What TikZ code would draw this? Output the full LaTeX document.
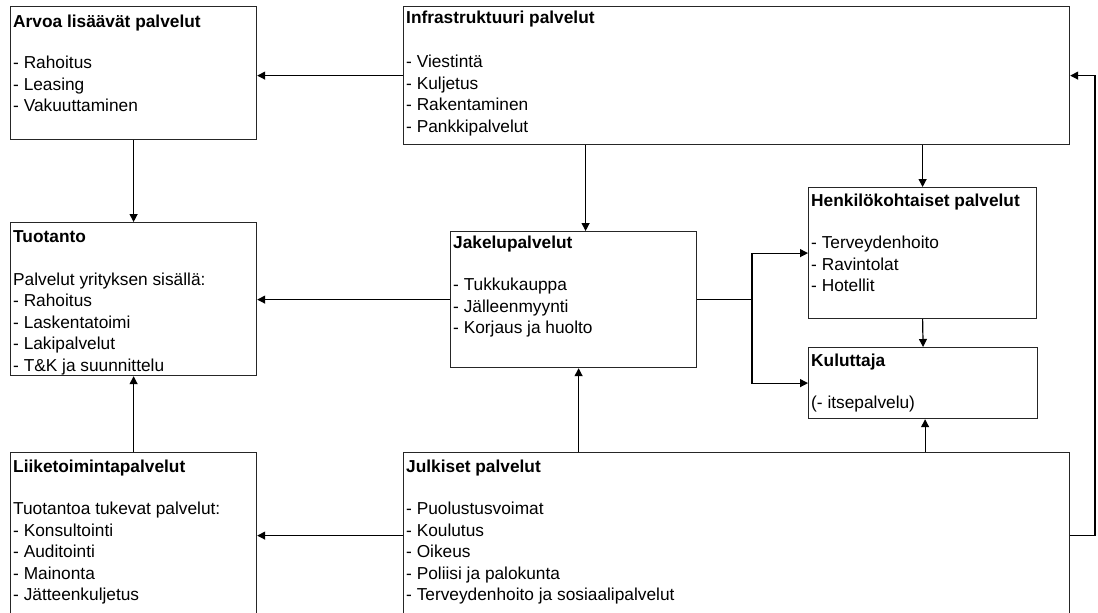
\documentclass[tikz,border=0pt]{standalone}
\usepackage{fontspec}
\setmainfont{Liberation Sans}
\usetikzlibrary{arrows.meta}
\begin{document}
\begin{tikzpicture}[x=1pt,y=-1pt,
  box/.style={draw=black!85, line width=1.2pt, inner sep=0pt, anchor=north west},
  txt/.style={anchor=north west, inner sep=0pt, align=left, font={\fontsize{17.3}{21.4}\selectfont}},
  conn/.style={draw=black, line width=1.2pt},
  arr/.style={conn, -{Triangle[length=8pt,width=8pt]}}]
\useasboundingbox (0,0) rectangle (1098,613);
% boxes
\node[box, minimum width=246pt, minimum height=133pt] (arvoa) at (10,6) {};
\node[box, minimum width=666pt, minimum height=138pt] (infra) at (403,6) {};
\node[box, minimum width=246pt, minimum height=153pt] (tuot) at (10,222) {};
\node[box, minimum width=246pt, minimum height=136pt] (jak) at (450,231) {};
\node[box, minimum width=228pt, minimum height=131pt] (henk) at (808,187) {};
\node[box, minimum width=229pt, minimum height=71pt] (kul) at (808,347) {};
\node[box, minimum width=246pt, minimum height=166pt] (liik) at (10,452) {};
\node[box, minimum width=666pt, minimum height=166pt] (julk) at (403,452) {};
% texts
\node[txt] (tarvoa) at ([shift={(3pt,-6pt)}]arvoa.north west) {\strut\textbf{Arvoa lisäävät palvelut}\\[-1pt] \\- Rahoitus\\- Leasing\\- Vakuuttaminen};
\node[txt] (tinfra) at ([shift={(3pt,-2pt)}]infra.north west) {\strut\textbf{Infrastruktuuri palvelut}\\[2pt] \\- Viestintä\\- Kuljetus\\- Rakentaminen\\- Pankkipalvelut};
\node[txt] (ttuot) at ([shift={(3pt,-5.5pt)}]tuot.north west) {\strut\textbf{Tuotanto}\\ \\Palvelut yrityksen sisällä:\\- Rahoitus\\- Laskentatoimi\\- Lakipalvelut\\- T\&K ja suunnittelu};
\node[txt] (tjak) at ([shift={(3pt,-2pt)}]jak.north west) {\strut\textbf{Jakelupalvelut}\\ \\- Tukkukauppa\\- Jälleenmyynti\\- Korjaus ja huolto};
\node[txt] (thenk) at ([shift={(3pt,-4pt)}]henk.north west) {\strut\textbf{Henkilökohtaiset palvelut}\\ \\- Terveydenhoito\\- Ravintolat\\- Hotellit};
\node[txt] (tkul) at ([shift={(3pt,-4pt)}]kul.north west) {\strut\textbf{Kuluttaja}\\ \\(- itsepalvelu)};
\node[txt] (tliik) at ([shift={(3pt,-5pt)}]liik.north west) {\strut\textbf{Liiketoimintapalvelut}\\ \\Tuotantoa tukevat palvelut:\\- Konsultointi\\- Auditointi\\- Mainonta\\- Jätteenkuljetus};
\node[txt] (tjulk) at ([shift={(3pt,-5pt)}]julk.north west) {\strut\textbf{Julkiset palvelut}\\ \\- Puolustusvoimat\\- Koulutus\\- Oikeus\\- Poliisi ja palokunta\\- Terveydenhoito ja sosiaalipalvelut};
% helper coordinates
\coordinate (br) at (752,0);
\coordinate (fb) at (1095,0);
% connectors
\draw[arr] (infra.west) -- (infra.west -| arvoa.east);
\draw[arr] (arvoa.south) -- (tuot.north);
\draw[arr] ([xshift=12pt]jak.north |- infra.south) -- ([xshift=12pt]jak.north);
\draw[arr] (henk.north |- infra.south) -- (henk.north);
\draw[arr] (jak.west) -- (jak.west -| tuot.east);
\draw[conn] (jak.east) -- (jak.east -| br);
\draw[arr] (jak.east -| br) |- (henk.west);
\draw[arr] (jak.east -| br) |- (kul.west);
\draw[arr] (henk.south) -- (kul.north);
\draw[arr] ([xshift=2pt]kul.south |- julk.north) -- ([xshift=2pt]kul.south);
\draw[arr] ([xshift=5pt]jak.south |- julk.north) -- ([xshift=5pt]jak.south);
\draw[arr] (julk.west) -- (julk.west -| liik.east);
\draw[arr] (liik.north) -- (tuot.south);
\draw[arr] (julk.east) -- (julk.east -| fb) |- (infra.east);
\end{tikzpicture}
\end{document}
